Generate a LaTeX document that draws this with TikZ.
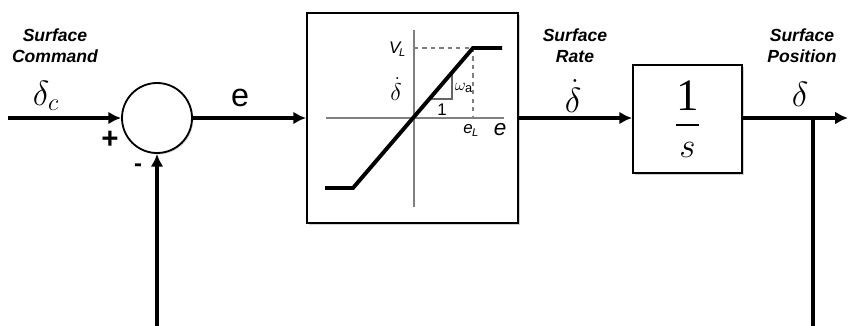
\documentclass[tikz,border=0pt]{standalone}
\usepackage{fontspec}
\setmainfont{Liberation Serif}
\setsansfont{Liberation Sans}
\usepackage{amsmath}
\usepackage{tikz}
\usetikzlibrary{arrows.meta, positioning, calc, shadows}
\tikzset{
  blk/.style ={rectangle, draw, line width=1.3pt, fill=white, inner sep=0pt,
               drop shadow={shadow xshift=1.2pt, shadow yshift=-1.2pt, fill=black!30, opacity=.6}},
  sig/.style ={line width=2.8pt},
  fl/.style  ={sig, -{Latex[length=3.2mm, width=3.2mm]}},
  lbl/.style ={font=\sffamily\bfseries\itshape\fontsize{12.5}{15}\selectfont, align=center, inner sep=0pt},
  sym/.style ={font=\fontsize{27}{28}\selectfont, inner sep=0pt},
  ax/.style  ={draw=black!50, line width=1.1pt},
  small/.style={font=\sffamily\itshape\fontsize{12}{13}\selectfont, inner sep=0pt},
}

\begin{document}
\begin{tikzpicture}[
    sumnode/.style={circle, draw, line width=1.3pt, fill=white, minimum size=1.75cm, inner sep=0pt,
                    drop shadow={shadow xshift=1pt, shadow yshift=-1pt, fill=black!30, opacity=.5}}
]
\useasboundingbox (0,0) rectangle (21.225,-8.15);

% blocks
\node[sumnode] (sum) at (3.925,-2.95) {};
\node[blk, minimum width=5.275cm, minimum height=5.25cm] (sat) at (10.3125,-2.95) {};
\node[blk, minimum width=2.725cm, minimum height=2.7cm] (integ) at (17.1875,-2.975)
  {\fontsize{32}{36}\selectfont$\displaystyle\frac{\text{1}}{s}$};

% end points
\coordinate (in) at (0.2,-2.95);
\coordinate (out) at (21.2,-2.95);
\coordinate (branch) at (20.325,-2.95);
\coordinate (branchend) at (20.325,-8.15);
\coordinate (fbin) at (sum.south |- 0,-8.15);

% signals
\draw[fl] (in) -- (sum.west);
\draw[fl] (fbin) -- (sum.south);
\draw[fl] (sum.east) -- (sat.west);
\draw[fl] (sat.east) -- (integ.west |- sat.east);
\draw[fl] (integ.east |- out) -- (out);
\draw[sig] (branch) -- (branchend);

% labels
\node[lbl] (cmdlbl) at (1.375,-1.15) {Surface\\Command};
\node[sym] (dclbl) at (1.15,-2.4) {$\delta_c$};
\node[font=\sffamily\fontsize{23}{24}\selectfont, inner sep=0pt] (elbl) at (6.0,-2.45) {e};
\node[lbl] (ratelbl) at (14.375,-1.15) {Surface\\Rate};
\node[sym] (ratesym) at (14.325,-2.4) {$\dot{\delta}$};
\node[lbl] (poslbl) at (20.05,-1.15) {Surface\\Position};
\node[sym] (possym) at (20.0,-2.35) {$\delta$};
\node[font=\sffamily\bfseries\fontsize{21}{22}\selectfont, inner sep=0pt] (plus) at (2.75,-3.5) {+};
\node[font=\sffamily\bfseries\fontsize{17}{18}\selectfont, inner sep=0pt] (minus) at (3.45,-4.2) {-};

% rate limit curve
\begin{scope}[shift={(10.35,-2.95)}]
  \draw[ax] (0,-2.225) -- (0,2.2);
  \draw[ax] (-2.19,0) -- (2.26,0);
  \draw[ax, dashed] (0,1.75) -- (1.475,1.75) -- (1.475,0);
  \draw[black!60, line width=0.8pt] (0.4,0.475) -- (0.95,0.475) -- (0.95,1.127);
  \draw[sig] (-2.225,-1.75) -- (-1.525,-1.75) -- (1.475,1.75) -- (2.2,1.75);
  \node[small] (vl) at (-0.42,1.72) {V\kern-1pt{\fontsize{8}{9}\selectfont\raisebox{-2pt}{L}}};
  \node[inner sep=0pt, font=\fontsize{17}{18}\selectfont] (sd) at (-0.45,0.72) {$\dot{\delta}$};
  \node[inner sep=0pt, font=\fontsize{13}{14}\selectfont] (wa) at (1.25,0.75) {$\omega_{\text{\sffamily a}}$};
  \node[small, font=\sffamily\fontsize{12}{13}\selectfont] (one) at (0.7,0.22) {1};
  \node[small] (el) at (1.42,-0.32) {e\kern-0.5pt{\fontsize{8}{9}\selectfont\raisebox{-2pt}{L}}};
  \node[font=\sffamily\itshape\fontsize{16}{17}\selectfont, inner sep=0pt] (eax) at (2.15,-0.3) {e};
\end{scope}

\end{tikzpicture}
\end{document}
